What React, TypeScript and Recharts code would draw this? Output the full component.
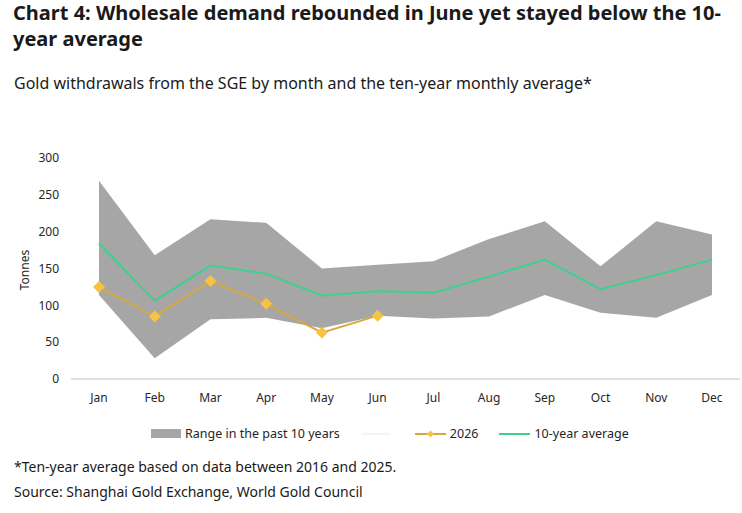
import { Area, ComposedChart, Line, XAxis, YAxis } from "recharts";

const months = ["Jan", "Feb", "Mar", "Apr", "May", "Jun", "Jul", "Aug", "Sep", "Oct", "Nov", "Dec"];
const rangeLow = [114, 28, 81, 83, 69, 86, 82, 85, 114, 90, 83, 114];
const rangeHigh = [269, 168, 217, 212, 150, 155, 160, 190, 214, 153, 214, 196];
const avg10y = [184, 106, 154, 143, 113, 119, 117, 139, 162, 122, 141, 162];
const y2026: (number | null)[] = [125, 85, 133, 102, 63, 86, null, null, null, null, null, null];
const yTicks = [0, 50, 100, 150, 200, 250, 300];

const GRAY = "#a6a6a6";
const GOLD = "#d6a840";
const GOLD_DOT = "#f6c343";
const GREEN = "#3fd08f";
const FONT = "'Noto Sans', 'Open Sans', sans-serif";

const data = months.map((m, i) => ({
  month: m,
  low: rangeLow[i],
  high: rangeHigh[i],
  avg: avg10y[i],
  cur: y2026[i],
}));

function Diamond(props: any) {
  const { cx, cy, index } = props;
  if (cx == null || cy == null || props.value == null) return <g key={index} />;
  const r = 6;
  return (
    <polygon
      key={index}
      points={`${cx},${cy - r} ${cx + r},${cy} ${cx},${cy + r} ${cx - r},${cy}`}
      fill={GOLD_DOT}
    />
  );
}

export default function App() {
  return (
    <div style={{ position: "absolute", left: 0, top: 0, width: 742, height: 513, background: "#fff", fontFamily: FONT, color: "#1a1a1a" }}>
      <div style={{ position: "absolute", left: 13, top: 0, width: 712, fontSize: 20, fontWeight: 700, lineHeight: "26px" }}>
        Chart 4: Wholesale demand rebounded in June yet stayed below the 10-year average
      </div>
      <div style={{ position: "absolute", left: 14, top: 72, fontSize: 16 }}>
        Gold withdrawals from the SGE by month and the ten-year monthly average*
      </div>
      <ComposedChart
        width={742}
        height={513}
        data={data}
        margin={{ top: 158, right: 2, bottom: 104, left: 21 }}
      >
        <XAxis
          dataKey="month"
          tickLine={false}
          axisLine={{ stroke: "#bfbfbf" }}
          tick={{ fill: "#262626", fontSize: 12, fontFamily: FONT }}
          tickMargin={8}
          interval={0}
          padding={{ left: 28, right: 28 }}
        />
        <YAxis
          domain={[0, 300]}
          ticks={yTicks}
          width={50}
          tickLine={false}
          axisLine={false}
          tickMargin={6}
          tick={{ fill: "#262626", fontSize: 12, fontFamily: FONT }}
        />
        <Area
          dataKey={(d: any) => [d.low, d.high]}
          type="linear"
          fill={GRAY}
          fillOpacity={1}
          stroke="none"
          isAnimationActive={false}
        />
        <Line dataKey="avg" type="linear" stroke={GREEN} strokeWidth={2} dot={false} isAnimationActive={false} />
        <Line dataKey="cur" type="linear" stroke={GOLD} strokeWidth={2} dot={<Diamond />} activeDot={false} isAnimationActive={false} />
      </ComposedChart>
      <div style={{ position: "absolute", left: 24, top: 270, transform: "translate(-50%, -50%) rotate(-90deg)", fontSize: 12, color: "#262626" }}>
        Tonnes
      </div>
      <div style={{ position: "absolute", left: 151, top: 425, height: 17, display: "flex", alignItems: "center", fontSize: 12.5, color: "#262626", whiteSpace: "nowrap" }}>
        <span style={{ display: "inline-block", width: 30, height: 9, background: GRAY, marginRight: 4 }} />
        <span>Range in the past 10 years</span>
        <span style={{ display: "inline-block", width: 28, height: 2, background: "#f4f4f4", marginLeft: 22, marginRight: 25 }} />
        <svg width={31} height={10} style={{ marginRight: 4 }}>
          <line x1={0} y1={5} x2={31} y2={5} stroke={GOLD} strokeWidth={2} />
          <polygon points="15.5,1.5 19,5 15.5,8.5 12,5" fill={GOLD_DOT} />
        </svg>
        <span>2026</span>
        <svg width={31} height={10} style={{ marginLeft: 21, marginRight: 4 }}>
          <line x1={0} y1={5} x2={31} y2={5} stroke={GREEN} strokeWidth={2} />
        </svg>
        <span>10-year average</span>
      </div>
      <div style={{ position: "absolute", left: 14, top: 457, fontSize: 14 }}>
        *Ten-year average based on data between 2016 and 2025.
      </div>
      <div style={{ position: "absolute", left: 14, top: 482, fontSize: 14 }}>
        Source: Shanghai Gold Exchange, World Gold Council
      </div>
    </div>
  );
}
